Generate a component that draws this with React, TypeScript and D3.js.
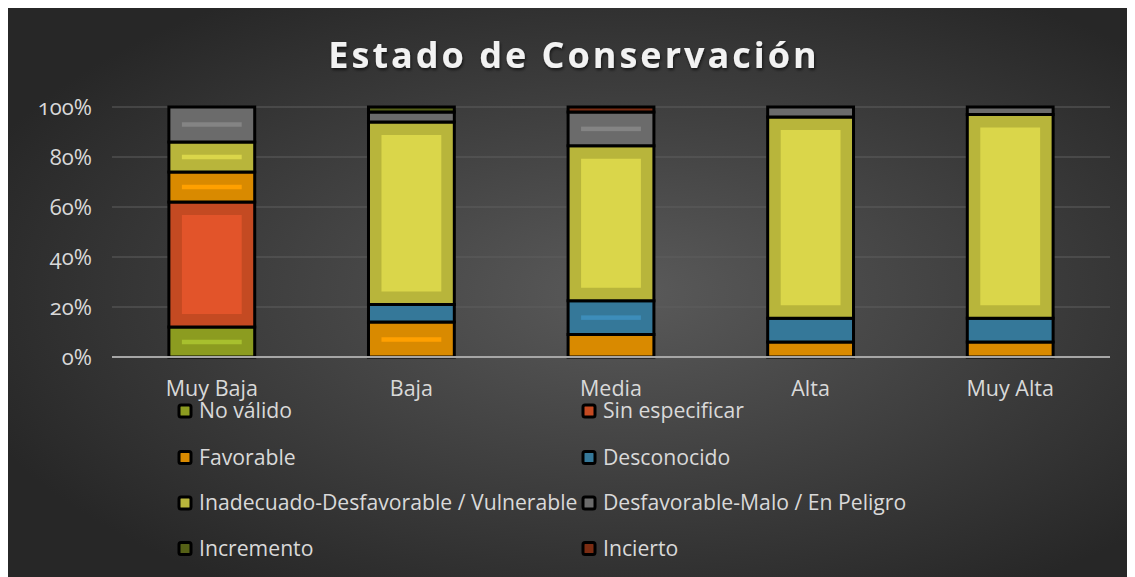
import { useEffect } from 'react';
import * as d3 from 'd3';

// categorías y series (porcentajes)
const categories = ['Muy Baja', 'Baja', 'Media', 'Alta', 'Muy Alta'];
const noValido = [12, 0, 0, 0, 0];
const sinEspecificar = [50, 0, 0, 0, 0];
const favorable = [12, 14, 9, 6, 6];
const desconocido = [0, 7, 13.5, 9.5, 9.5];
const inadecuado = [12, 73, 62, 80.5, 81.5];
const desfavorable = [14, 4, 13.5, 4, 3];
const incremento = [0, 2, 0, 0, 0];
const incierto = [0, 0, 2, 0, 0];
const yTicks = [0, 20, 40, 60, 80, 100];

const seriesNames = [
  'No válido',
  'Sin especificar',
  'Favorable',
  'Desconocido',
  'Inadecuado-Desfavorable / Vulnerable',
  'Desfavorable-Malo / En Peligro',
  'Incremento',
  'Incierto',
];
const seriesValues = [noValido, sinEspecificar, favorable, desconocido, inadecuado, desfavorable, incremento, incierto];
const outerColors = ['#8c9c20', '#c44a22', '#d98a00', '#357899', '#b8b53b', '#6b6b6b', '#556016', '#7b2c12'];
const innerColors = ['#a8c02e', '#e2542a', '#ffa000', '#3d8dba', '#dad64a', '#848484', '#667320', '#8f3618'];

const W = 1127;
const H = 569;
const margin = { top: 99, right: 25, bottom: 220, left: 104 };
const FONT = '"Open Sans", sans-serif';

export default function App() {
  useEffect(() => {
    document.body.style.overflow = 'hidden';
  }, []);

  const rows = categories.map((c, i) => {
    const r: any = { cat: c };
    seriesNames.forEach((s, k) => (r[s] = seriesValues[k][i]));
    return r;
  });
  const stacked = d3.stack().keys(seriesNames)(rows);

  const x = d3
    .scaleBand()
    .domain(categories)
    .range([margin.left, W - margin.right])
    .paddingInner(0.57)
    .paddingOuter(0.285);
  const y = d3.scaleLinear().domain([0, 100]).range([H - margin.bottom, margin.top]);

  const legendCol = [176, 580];
  const legendRow = [403, 449.5, 495, 540.5];

  return (
    <svg width={W} height={H} style={{ display: 'block' }} fontFamily={FONT}>
      <defs>
        <radialGradient id="bg" cx="0.55" cy="0.5" r="0.62">
          <stop offset="0" stopColor="#5a5a5a" />
          <stop offset="1" stopColor="#272727" />
        </radialGradient>
        <filter id="shadow" x="-10%" y="-30%" width="120%" height="160%">
          <feDropShadow dx="1" dy="2" stdDeviation="1.5" floodColor="#000" floodOpacity="0.6" />
        </filter>
      </defs>
      <rect width={W} height={H} fill="url(#bg)" />

      <text
        x={566}
        y={60}
        textAnchor="middle"
        fontSize={36}
        fontWeight="bold"
        letterSpacing={3}
        fill="#f2f2f2"
        filter="url(#shadow)"
      >
        Estado de Conservación
      </text>

      {yTicks.map(t => (
        <g key={t}>
          {t > 0 && (
            <line x1={margin.left} x2={W - margin.right} y1={y(t)} y2={y(t)} stroke="#5e5e5e" strokeWidth={1} />
          )}
          <text
            x={84}
            y={y(t)}
            dy="0.35em"
            textAnchor="end"
            fontSize={22}
            fill="#d9d9d9"
            style={{ fontVariantNumeric: 'oldstyle-nums' }}
          >
            {t}%
          </text>
        </g>
      ))}

      {stacked.map((s, k) => (
        <g key={s.key}>
          {s.map((d, i) => {
            const v = d[1] - d[0];
            if (v <= 0) return null;
            const bx = x(categories[i])!;
            const bw = x.bandwidth();
            const top = y(d[1]);
            const h = y(d[0]) - top;
            const ih = h >= 27 ? (h < 45 ? 4.5 : h - 26) : 0;
            return (
              <g key={i}>
                <rect x={bx} y={top} width={bw} height={h} fill={outerColors[k]} stroke="#000" strokeWidth={3} />
                {ih > 0 && (
                  <rect x={bx + 13} y={top + (h - ih) / 2} width={bw - 26} height={ih} fill={innerColors[k]} />
                )}
              </g>
            );
          })}
        </g>
      ))}

      <line x1={margin.left} x2={W - margin.right} y1={y(0)} y2={y(0)} stroke="#a6a6a6" strokeWidth={2} />

      {categories.map(c => (
        <text key={c} x={x(c)! + x.bandwidth() / 2} y={380} dy="0.35em" textAnchor="middle" fontSize={21.5} fill="#d9d9d9">
          {c}
        </text>
      ))}

      {seriesNames.map((s, k) => {
        const lx = legendCol[k % 2];
        const ly = legendRow[Math.floor(k / 2)];
        return (
          <g key={s}>
            <rect x={lx - 5} y={ly - 6} width={12} height={12} rx={2} fill={outerColors[k]} stroke="#000" strokeWidth={3} />
            <text x={lx + 15} y={ly} dy="0.35em" fontSize={21.2} fill="#d9d9d9">
              {s}
            </text>
          </g>
        );
      })}
    </svg>
  );
}
